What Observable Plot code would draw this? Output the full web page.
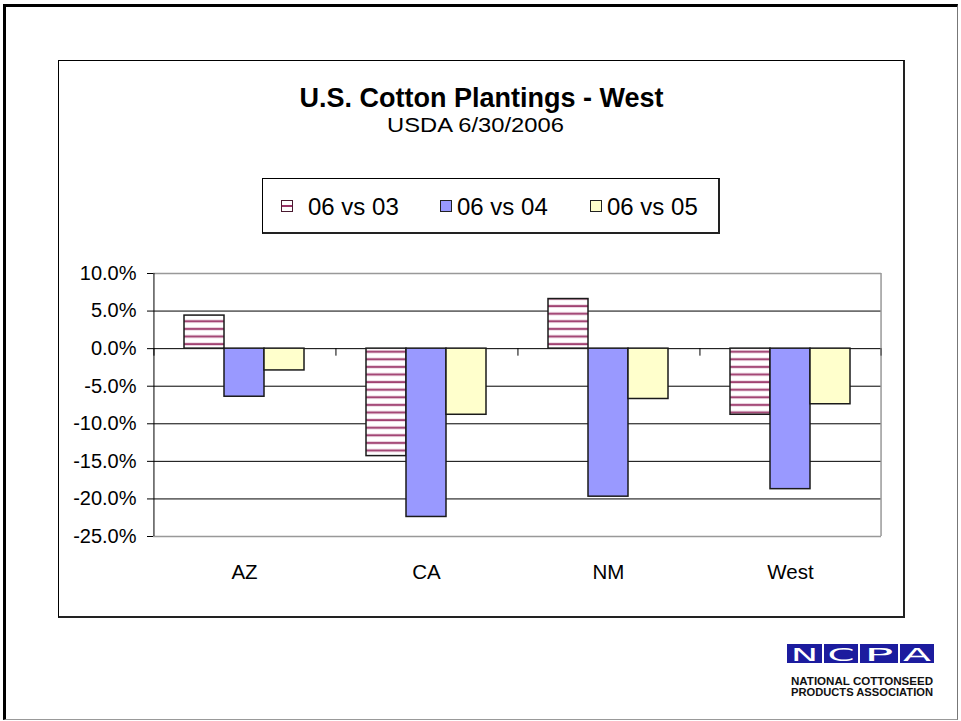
<!DOCTYPE html>
<html><head><meta charset="utf-8">
<script src="https://cdn.jsdelivr.net/npm/d3@7"></script>
<script src="https://cdn.jsdelivr.net/npm/@observablehq/plot@0.6"></script>
<style>
html,body{margin:0;padding:0;background:#fff;}
#page{position:relative;width:961px;height:721px;overflow:hidden;font-family:"Liberation Sans",Arial,sans-serif;color:#000;}
#outer{position:absolute;left:3px;top:4px;width:955px;height:716px;box-sizing:border-box;border-left:3px solid #000;border-top:3px solid #000;border-right:1px solid #777;border-bottom:1px solid #999;}
#box{position:absolute;left:58px;top:60px;width:847px;height:558px;box-sizing:border-box;border:1px solid #000;border-right:2px solid #222;border-bottom:2px solid #222;}
#title{position:absolute;left:58px;width:847px;top:85px;text-align:center;font-weight:bold;font-size:27px;line-height:27px;}
#subtitle{position:absolute;left:58px;width:835px;top:114px;text-align:center;font-size:21px;line-height:21px;transform:scaleX(1.13);}
#legend{position:absolute;left:262px;top:178px;width:458px;height:56px;box-sizing:border-box;border:1px solid #000;border-right:2px solid #222;border-bottom:2px solid #222;}
.sw{position:absolute;top:21px;width:12px;height:12px;box-sizing:border-box;border:1px solid #222;}
.lt{position:absolute;top:16px;font-size:24px;line-height:24px;white-space:nowrap;}
#chart{position:absolute;left:58px;top:250px;}
#logo{position:absolute;left:785px;top:642px;}
</style></head><body>
<div id="page">
  <div id="outer"></div>
  <div id="box"></div>
  <div id="title">U.S. Cotton Plantings - West</div>
  <div id="subtitle">USDA 6/30/2006</div>
  <div id="legend"></div>
  <div id="chart"></div>
  <svg id="logo" width="152" height="58" viewBox="0 0 152 58">
    <g fill="#1c1c9e">
      <rect x="2" y="2" width="35" height="19"/>
      <rect x="39" y="2" width="34" height="19"/>
      <rect x="75" y="2" width="38" height="19"/>
      <rect x="115" y="2" width="34" height="19"/>
    </g>
    <g fill="#fff" font-family="DejaVu Sans, sans-serif" font-size="18" text-anchor="middle">
      <text x="19.5" y="18.5" textLength="27" lengthAdjust="spacingAndGlyphs">N</text>
      <text x="56" y="18.5" textLength="27" lengthAdjust="spacingAndGlyphs">C</text>
      <text x="94" y="18.5" textLength="29" lengthAdjust="spacingAndGlyphs">P</text>
      <text x="132" y="18.5" textLength="28" lengthAdjust="spacingAndGlyphs">A</text>
    </g>
    <g fill="#111" font-family="Liberation Sans, Arial, sans-serif" font-weight="bold" font-size="11">
      <text x="6" y="43" textLength="142" lengthAdjust="spacingAndGlyphs">NATIONAL COTTONSEED</text>
      <text x="6" y="54" textLength="142" lengthAdjust="spacingAndGlyphs">PRODUCTS ASSOCIATION</text>
    </g>
  </svg>
</div>
<script>
// ---- data ----
const categories = ["AZ", "CA", "NM", "West"];
const seriesNames = ["06 vs 03", "06 vs 04", "06 vs 05"];
const vs03 = [4.4, -14.3, 6.6, -8.8];
const vs04 = [-6.4, -22.4, -19.7, -18.7];
const vs05 = [-2.9, -8.8, -6.7, -7.4];
const yTicks = [10, 5, 0, -5, -10, -15, -20, -25];
const seriesColors = ["url(#hatch03)", "#9999ff", "#ffffcc"];

const rows = [];
[vs03, vs04, vs05].forEach((vals, si) =>
  vals.forEach((v, ci) => rows.push({state: categories[ci], series: seriesNames[si], value: v})));

// ---- layout ----
const W = 847, H = 350, mL = 94, mR = 23, mT = 23, mB = 64;
const padOuter = 0.742;
const facetW = (W - mL - mR) / categories.length;
const step = facetW / (seriesNames.length + 2 * padOuter);
const edge = padOuter * step + step / 2;

const svg = Plot.plot({
  width: W, height: H,
  marginLeft: mL, marginRight: mR, marginTop: mT, marginBottom: mB,
  style: {fontFamily: "Liberation Sans, Arial, sans-serif", color: "#000", background: "transparent", overflow: "visible"},
  fx: {domain: categories, padding: 0, label: null},
  x: {domain: seriesNames, paddingInner: 0, paddingOuter: padOuter, axis: null},
  y: {domain: [-25, 10], label: null},
  color: {type: "ordinal", domain: seriesNames, range: seriesColors},
  marks: [
    Plot.ruleY(yTicks.filter(t => t > -25 && t < 10), {stroke: "#000", strokeWidth: 1}),
    Plot.ruleY([10, -25], {stroke: "#999", strokeWidth: 1.5}),
    Plot.barY(rows, {fx: "state", x: "series", y: "value", fill: "series", stroke: "#1a1a1a", strokeWidth: 1.5}),
    Plot.ruleX(categories, {fx: d => d, x: () => seriesNames[0], y1: 0, y2: -1, dx: -edge, stroke: "#000"}),
    Plot.ruleX(["West"], {fx: d => d, x: () => seriesNames[2], y1: 10, y2: -25, dx: edge, stroke: "#999", strokeWidth: 1.5}),
    Plot.ruleX(["West"], {fx: d => d, x: () => seriesNames[2], y1: 0, y2: -1, dx: edge, stroke: "#333"}),
    Plot.ruleX(["AZ"], {fx: d => d, x: () => seriesNames[0], y1: 10, y2: -25, dx: -edge, stroke: "#000"}),
    Plot.axisY({ticks: yTicks, tickFormat: d => d.toFixed(1) + "%", tickSize: 6, tickPadding: 11, fontSize: 20, label: null}),
    Plot.axisFx({anchor: "bottom", tickSize: 0, tickPadding: 28, fontSize: 20.5, label: null})
  ]
});

// hatch pattern for 06 vs 03
const defs = d3.select(svg).insert("defs", ":first-child");
const pat = defs.append("pattern").attr("id", "hatch03").attr("patternUnits", "userSpaceOnUse")
  .attr("width", 8).attr("height", 7.6);
pat.append("rect").attr("width", 8).attr("height", 7.6).attr("fill", "#fff");
pat.append("rect").attr("y", 1.4).attr("width", 8).attr("height", 3).attr("fill", "#e3bfd2");
pat.append("rect").attr("y", 2.1).attr("width", 8).attr("height", 1.6).attr("fill", "#993366");

document.getElementById("chart").appendChild(svg);

// legend
const legend = d3.select("#legend");
const swX = [18, 177, 327], txX = [45, 194, 344];
seriesNames.forEach((s, i) => {
  const sw = legend.append("div").attr("class", "sw").style("left", swX[i] + "px");
  if (i === 0) sw.style("background", "linear-gradient(#fff 0 4px, #993366 4px 6px, #fff 6px)").style("border-color", "#4a1a30");
  else sw.style("background", seriesColors[i]);
  legend.append("div").attr("class", "lt").style("left", txX[i] + "px").text(s);
});
</script>
</body></html>
